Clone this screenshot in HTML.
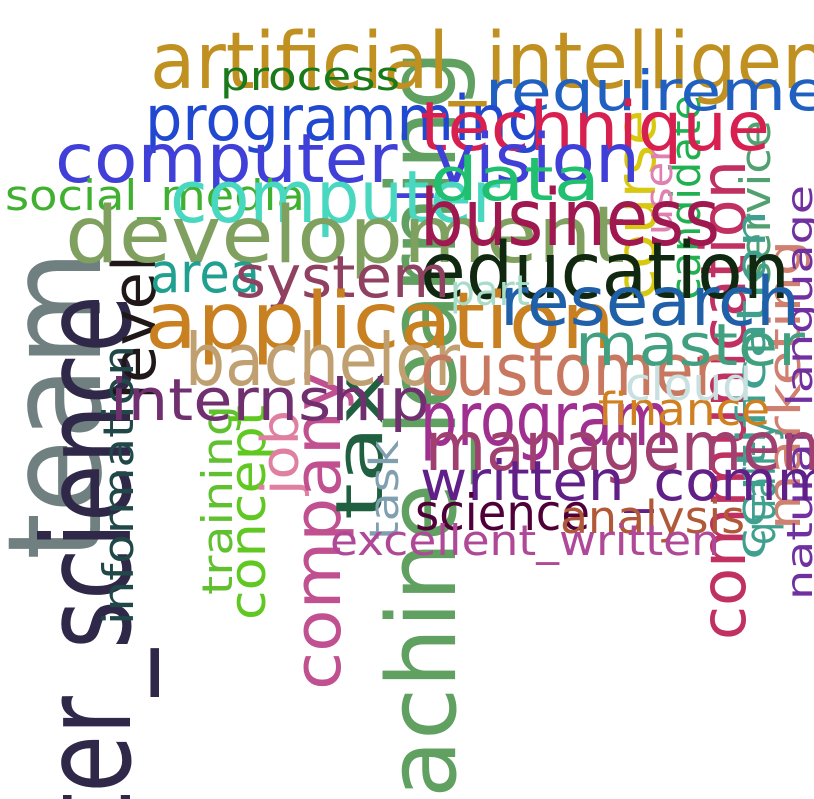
<!DOCTYPE html>
<html><head><meta charset="utf-8"><style>
html,body{margin:0;padding:0;background:#fff;width:814px;height:799px;overflow:hidden;}
svg{display:block;overflow:hidden;}
text{font-family:"DejaVu Sans","Liberation Sans",sans-serif;}
</style></head><body>
<svg id="cloud" width="814" height="799" viewBox="0 0 814 799" xmlns="http://www.w3.org/2000/svg"></svg>
<script>
// words: [text, x, y(baseline), size, length, color, vertical]
const words = ["team","computer_science","level","information","training","concept","job","company","tax","task","machine_learning","course","candidate","user","service","communication","certification","marketing","quality","natural_language","artificial_intelligence","process","requirement","programming","technique","computer_vision","social_media","computer","data","development","business","education","area","system","application","research","part","bachelor","customer","master","internship","program","finance","cloud","management","written_communication","science","analysis","excellent_written"];
const layout = {
"team":[100,560,130,310,"#708080",1],
"computer_science":[130,1150,122,855,"#302848",1],
"level":[155,400,60,145,"#201818",1],
"information":[133,625,42,280,"#204848",1],
"training":[232,595,42,190,"#60c030",1],
"concept":[265,620,50,215,"#60c820",1],
"job":[298,495,52,85,"#e080a0",1],
"company":[340,690,65,320,"#c05090",1],
"tax":[382,520,65,150,"#206040",1],
"task":[398,540,40,100,"#80a0b0",1],
"machine_learning":[455,890,95,840,"#60a060",1],
"course":[655,300,55,190,"#d8c810",1],
"candidate":[700,300,42,205,"#20b050",1],
"user":[672,235,38,90,"#e080b0",1],
"service":[770,285,42,165,"#50a070",1],
"communication":[745,640,62,480,"#c03060",1],
"certification":[765,560,40,350,"#40a090",1],
"marketing":[800,530,45,290,"#d08070",1],
"quality":[775,545,42,125,"#40a090",1],
"natural_language":[812,600,36,415,"#7030a0",1],
"artificial_intelligence":[150,88,78,765,"#c09020",0],
"process":[220,90,40,180,"#1a7a1a",0],
"requirement":[485,110,55,410,"#2060c0",0],
"programming":[145,140,62,400,"#2048d0",0],
"technique":[420,150,68,350,"#d82050",0],
"computer_vision":[55,182,68,585,"#4040d8",0],
"social_media":[5,210,42,300,"#40b030",0],
"computer":[170,222,72,330,"#48d8c0",0],
"data":[430,200,60,170,"#20c070",0],
"development":[65,262,78,560,"#80a060",0],
"business":[420,245,78,300,"#a01850",0],
"education":[420,298,78,370,"#102810",0],
"area":[150,292,55,110,"#20a090",0],
"system":[235,297,58,215,"#904060",0],
"application":[145,348,78,470,"#c88020",0],
"research":[500,325,68,300,"#2060a8",0],
"part":[450,305,42,80,"#a8dcc8",0],
"bachelor":[185,385,72,275,"#c0a070",0],
"customer":[420,395,72,300,"#c87860",0],
"master":[575,365,58,230,"#40a080",0],
"internship":[110,420,58,320,"#703070",0],
"program":[420,445,75,250,"#a03090",0],
"finance":[598,425,45,172,"#d08020",0],
"cloud":[625,400,45,127,"#c8e0e0",0],
"management":[425,470,68,420,"#a04070",0],
"written_communication":[420,500,55,680,"#602088",0],
"science":[415,530,50,175,"#500038",0],
"analysis":[560,533,45,185,"#b05838",0],
"excellent_written":[330,555,42,390,"#b04898",0]
};
const svg=document.getElementById('cloud');
words.forEach(w=>{
  const [x,y,s,len,c,v]=layout[w];
  const t=document.createElementNS('http://www.w3.org/2000/svg','text');
  t.setAttribute('x',x);t.setAttribute('y',y);
  t.setAttribute('font-size',s);t.setAttribute('fill',c);
  t.setAttribute('textLength',len);t.setAttribute('lengthAdjust','spacingAndGlyphs');
  if(v)t.setAttribute('transform','rotate(-90 '+x+' '+y+')');
  t.textContent=w;
  
  
  svg.appendChild(t);
});
</script>
</body></html>
